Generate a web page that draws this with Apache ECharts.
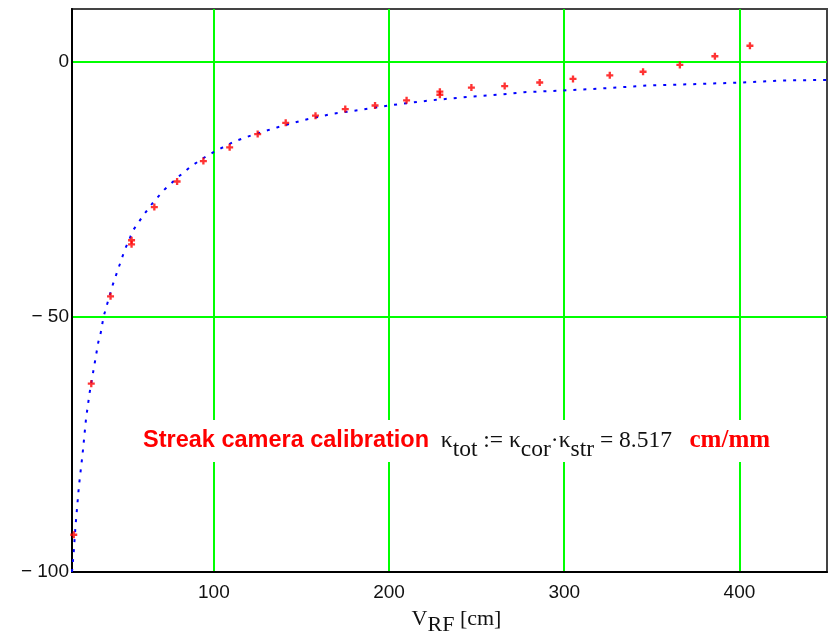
<!DOCTYPE html>
<html>
<head>
<meta charset="utf-8">
<script src="https://cdn.jsdelivr.net/npm/echarts@6/dist/echarts.min.js"></script>
<style>
html, body { margin: 0; padding: 0; background: #fff; }
#chart { width: 830px; height: 639px; }
</style>
</head>
<body>
<div id="chart"></div>
<script>
// axis ranges and tick labels
const xMin = 19;
const xMax = 450;
const yMin = -100;
const yMax = 10.3;
const xTicks = [100, 200, 300, 400];
const yTicks = [-100, -50, 0];
const yGridTicks = [-50, 0];

// measured calibration points (red crosses)
const calX = [20, 30, 41, 53, 53, 66, 79, 94, 109, 125, 141, 158, 175, 192, 210, 229, 229, 247, 266, 286, 305, 326, 345, 366, 386, 406];
const calY = [-92.7, -63.1, -46.0, -35.0, -35.8, -28.5, -23.5, -19.5, -16.8, -14.2, -12.0, -10.6, -9.3, -8.6, -7.6, -5.9, -6.5, -5.1, -4.8, -4.1, -3.4, -2.7, -2.0, -0.65, 1.04, 3.1];

// fitted curve (blue dotted)
const fitX = [19, 20, 21, 22, 23, 24, 25, 26, 27, 28, 29, 30, 31, 32, 33, 34, 35.5, 37, 39.5, 42, 46, 49, 54, 60, 65.5, 72, 80, 87, 95, 100, 112, 121, 136, 152, 168, 183, 200, 216, 227, 245, 262, 277, 297, 325, 347, 376, 401, 424, 450];
const fitY = [-100, -96, -91, -87, -83, -80, -77, -73.5, -70, -67.5, -65, -63, -61, -59, -57, -55, -53, -50, -47, -44, -40, -37, -33, -30, -27.5, -25, -22.5, -20.5, -18.7, -17.7, -15.6, -14.5, -12.9, -11.4, -10.2, -9.5, -8.6, -7.9, -7.5, -6.9, -6.5, -6.0, -5.7, -5.2, -4.7, -4.4, -4.1, -3.7, -3.6];

const labelFont = 'Liberation Sans Narrow, Liberation Sans, Arial, sans-serif';
const serif = 'Liberation Serif, Times New Roman, serif';

const chart = echarts.init(document.getElementById('chart'));

const option = {
    animation: false,
    backgroundColor: '#fff',
    grid: {
        left: 72,
        right: 3,
        top: 9,
        bottom: 67,
        outerBoundsMode: 'none',
        containLabel: false,
        show: true,
        borderColor: '#444',
        borderWidth: 2,
        backgroundColor: '#fff'
    },
    xAxis: {
        type: 'value',
        min: xMin,
        max: xMax,
        axisLine: {onZero: false, lineStyle: {color: '#000', width: 2}},
        axisTick: {show: false, customValues: xTicks},
        axisLabel: {
            customValues: xTicks,
            margin: 11,
            color: '#111',
            fontFamily: labelFont,
            fontSize: 19
        },
        splitLine: {show: true, lineStyle: {color: '#00ff00', width: 2}},
        name: '{v|V}{s|RF}{v| [cm]}',
        nameLocation: 'middle',
        nameGap: 30,
        nameTextStyle: {
            padding: [0, 0, 0, 14],
            rich: {
                v: {fontFamily: serif, fontSize: 22, color: '#111'},
                s: {fontFamily: serif, fontSize: 22, color: '#111', padding: [12, 0, 0, 0]}
            }
        }
    },
    yAxis: {
        type: 'value',
        min: yMin,
        max: yMax,
        axisLine: {onZero: false, lineStyle: {color: '#000', width: 2}},
        axisTick: {show: false, customValues: yGridTicks},
        axisLabel: {
            customValues: yTicks,
            margin: 3,
            color: '#111',
            fontFamily: labelFont,
            fontSize: 19,
            formatter: v => (v < 0 ? '\u2212 ' + Math.abs(v) : String(v))
        },
        splitLine: {show: true, lineStyle: {color: '#00ff00', width: 2}}
    },
    graphic: [{
        type: 'text',
        left: 140,
        top: 420,
        z: 10,
        style: {
            text: '{r|Streak camera calibration}{k|  \u03ba}{s|tot}{k| := \u03ba}{s|cor}{k|\u00b7\u03ba}{s|str}{k| = 8.517   }{u|cm/mm}',
            backgroundColor: '#fff',
            padding: [0, 4, 0, 3],
            rich: {
                r: {fontFamily: 'Liberation Sans, Arial, sans-serif', fontWeight: 'bold', fontSize: 23.5, fill: '#ff0000'},
                k: {fontFamily: serif, fontSize: 23.5, fill: '#111'},
                s: {fontFamily: serif, fontSize: 23.5, fill: '#111', padding: [18, 0, 0, 0]},
                u: {fontFamily: serif, fontWeight: 'bold', fontSize: 25, fill: '#ff0000'}
            }
        }
    }],
    series: [
        {
            name: 'fit',
            type: 'line',
            data: fitX.map((x, i) => [x, fitY[i]]),
            symbol: 'none',
            smooth: false,
            lineStyle: {color: '#0000ff', width: 2, type: [3, 7]},
            z: 2
        },
        {
            name: 'measured',
            type: 'scatter',
            data: calX.map((x, i) => [x, calY[i]]),
            symbol: 'path://M2,0H4V2H6V4H4V6H2V4H0V2H2Z',
            symbolSize: 7,
            itemStyle: {color: '#ff0000'},
            z: 3
        }
    ]
};

chart.setOption(option);
</script>
</body>
</html>
